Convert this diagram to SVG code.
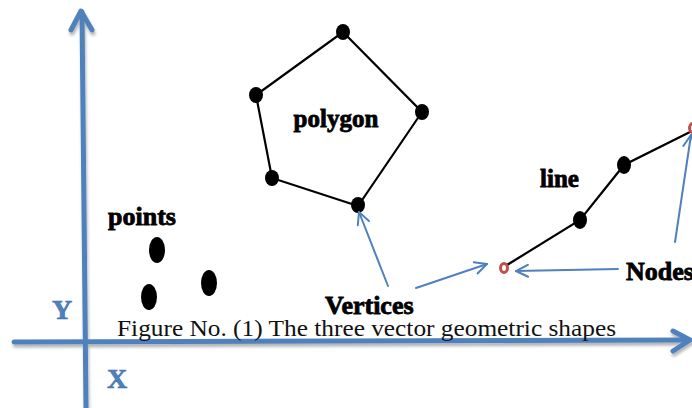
<svg xmlns="http://www.w3.org/2000/svg" width="692" height="408" viewBox="0 0 692 408">
<defs>
<style>
.axis{stroke:#4F81BD;stroke-width:5;fill:none;stroke-linecap:round;stroke-linejoin:round}
.ptr{stroke:#4F81BD;stroke-width:2;fill:none;stroke-linecap:round}
.edge{stroke:#000;stroke-width:2.2;fill:none}
.v{fill:#000}
.lbl{font-family:"Liberation Serif","Times New Roman",serif;font-weight:bold;fill:#000;stroke:#000;stroke-width:0.8}
.axl{font-family:"Liberation Serif","Times New Roman",serif;font-weight:bold;fill:#4F81BD;stroke:#3f6fa8;stroke-width:0.6}
.cap{font-family:"Liberation Serif","Times New Roman",serif;fill:#111}
</style>
<filter id="sh" x="-5%" y="-50%" width="110%" height="200%">
<feDropShadow dx="1" dy="3" stdDeviation="1.5" flood-color="#000" flood-opacity="0.3"/>
</filter>
<marker id="open" viewBox="0 0 14 14" refX="13" refY="7" markerWidth="14" markerHeight="14" markerUnits="userSpaceOnUse" orient="auto">
<path d="M1,1 L13,7 L1,13" stroke="#4F81BD" stroke-width="2" fill="none" stroke-linecap="round"/>
</marker>
</defs>

<g id="axes" filter="url(#sh)">
<path class="axis" d="M82,12 L86,408"/>
<path class="axis" d="M71,30 L81,11 L92,30"/>
<path class="axis" d="M14,342 L689,340"/>
<path class="axis" d="M673,331 L690,340 L673,351"/>
</g>

<text class="cap" x="117" y="336" font-size="23" textLength="499" lengthAdjust="spacingAndGlyphs">Figure No. (1) The three vector geometric shapes</text>

<g id="axis-labels">
<text class="axl" x="52" y="319" font-size="28">Y</text>
<text class="axl" x="107" y="388" font-size="28">X</text>
</g>

<g id="points">
<text class="lbl" x="108" y="225" font-size="26">points</text>
<ellipse class="v" cx="157" cy="250" rx="8" ry="13"/>
<ellipse class="v" cx="149" cy="297" rx="8" ry="13"/>
<ellipse class="v" cx="209" cy="283" rx="8" ry="13"/>
</g>

<g id="polygon">
<polygon class="edge" points="343,32 422,112 358,206 272,178 256,95"/>
<ellipse class="v" cx="343" cy="32" rx="7" ry="8"/>
<ellipse class="v" cx="422" cy="112" rx="7" ry="8"/>
<ellipse class="v" cx="358" cy="205" rx="7" ry="8"/>
<ellipse class="v" cx="272" cy="178" rx="7" ry="8"/>
<ellipse class="v" cx="256" cy="95" rx="7" ry="8"/>
<text class="lbl" x="336" y="127" font-size="25" text-anchor="middle">polygon</text>
</g>

<g id="line">
<polyline class="edge" points="507,265 580,220 624,165 692,131"/>
<ellipse class="v" cx="580" cy="220" rx="7" ry="9"/>
<ellipse class="v" cx="624" cy="165" rx="7" ry="9"/>
<ellipse cx="504" cy="268" rx="3.5" ry="4.5" fill="#fff" stroke="#C0504D" stroke-width="3"/>
<ellipse cx="693" cy="128" rx="3.5" ry="4.5" fill="#fff" stroke="#C0504D" stroke-width="3"/>
<text class="lbl" x="540" y="187" font-size="25">line</text>
</g>

<g id="vertices-label">
<text class="lbl" x="325" y="314" font-size="26">Vertices</text>
</g>
<g id="nodes-label">
<text class="lbl" x="626" y="280" font-size="26">Nodes</text>
</g>

<g id="connectors">
<line class="ptr" x1="388" y1="286" x2="359" y2="212" marker-end="url(#open)"/>
<line class="ptr" x1="416" y1="288" x2="487" y2="264" marker-end="url(#open)"/>
<line class="ptr" x1="618" y1="269" x2="516" y2="271" marker-end="url(#open)"/>
<line class="ptr" x1="675" y1="242" x2="691" y2="135" marker-end="url(#open)"/>
</g>
</svg>
